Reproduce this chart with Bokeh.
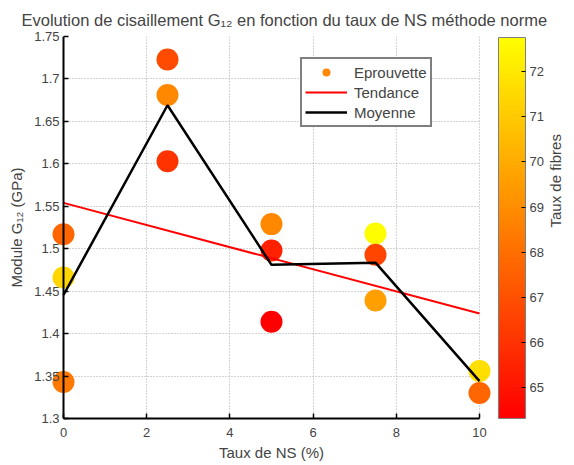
from bokeh.plotting import figure
from bokeh.models import (ColumnDataSource, LinearColorMapper, ColorBar, FixedTicker,
                          Legend, LegendItem, Range1d, Span, BoxAnnotation, LinearAxis)
from bokeh.embed import file_html
from bokeh.resources import INLINE
import math

# ---------------- data ----------------
ns_pct = [0, 0, 0, 2.5, 2.5, 2.5, 5, 5, 5, 7.5, 7.5, 7.5, 10, 10]
g12 = [1.517, 1.466, 1.343, 1.723, 1.681, 1.603, 1.529, 1.498, 1.414,
       1.518, 1.493, 1.439, 1.356, 1.330]
fibre = [67.7, 71.4, 68.3, 66.8, 68.8, 66.0, 68.8, 65.4, 64.3,
         72.7, 66.6, 69.6, 71.7, 67.7]

moy_x = [0, 2.5, 5, 7.5, 10]
moy_y = [1.4455, 1.669, 1.481, 1.4836, 1.344]

trend_x = [0, 10]
trend_y = [1.554, 1.4236]

x_min, x_max = 0, 10
y_min, y_max = 1.3, 1.75
x_ticks = [0, 2, 4, 6, 8, 10]
y_ticks = [1.3, 1.35, 1.4, 1.45, 1.5, 1.55, 1.6, 1.65, 1.7, 1.75]
y_tick_labels = ["1.3", "1.35", "1.4", "1.45", "1.5", "1.55", "1.6", "1.65", "1.7", "1.75"]
cbar_ticks = [65, 66, 67, 68, 69, 70, 71, 72]
cbar_low, cbar_high = 64.31, 72.76

TITLE = "Evolution de cisaillement G\u2081\u2082 en fonction du taux de NS m\u00e9thode norme"
XLABEL = "Taux de NS (%)"
YLABEL = "Module G\u2081\u2082 (GPa)"
CLABEL = "Taux de fibres"

# ---------------- style ----------------
FONT = "Liberation Sans"
autumn = ["#ff%02x00" % i for i in range(256)]
PAD = 0.2885   # extra frame room so edge markers are not cut

p = figure(frame_width=440, frame_height=382, output_backend="svg", toolbar_location=None,
           x_range=Range1d(x_min - PAD, x_max + PAD), y_range=Range1d(y_min, y_max),
           min_border_left=51, min_border_right=72, min_border_top=34,
           min_border_bottom=46, title=TITLE)
p.outline_line_color = None
p.background_fill_color = "white"

p.title.text_font = FONT
p.title.text_font_size = "16.5px"
p.title.text_font_style = "normal"
p.title.align = "left"
p.title.offset = -30
p.title.standoff = 16

for ax in (p.xaxis[0], p.yaxis[0]):
    ax.minor_tick_line_color = None
    ax.major_label_text_font = FONT
    ax.major_label_text_font_size = "13px"
    ax.axis_label_text_font = FONT
    ax.axis_label_text_font_size = "15px"
    ax.axis_label_text_font_style = "normal"
    ax.major_tick_line_width = 1.5

# x axis (bottom)
p.xaxis.ticker = FixedTicker(ticks=x_ticks)
p.xaxis.bounds = (x_min, x_max)
p.xaxis.axis_line_width = 2
p.xaxis.major_tick_in = 5
p.xaxis.major_tick_out = 0
p.xaxis.axis_label = XLABEL
p.xaxis.major_label_standoff = 9
p.xaxis.axis_label_standoff = 4

# y axis (left): labels shifted in to sit next to x = 0
p.yaxis.ticker = FixedTicker(ticks=y_ticks)
p.yaxis.major_label_overrides = {t: l for t, l in zip(y_ticks, y_tick_labels)}
p.yaxis.axis_line_color = None
p.yaxis.major_tick_in = 17
p.yaxis.major_tick_out = -12
p.yaxis.minor_tick_in = 0
p.yaxis.minor_tick_out = 0
p.yaxis.major_label_standoff = -8

# y axis title on its own label-only axis (centred a little above mid-height)
lax = LinearAxis(ticker=FixedTicker(ticks=[]), axis_line_color=None,
                 major_tick_line_color=None, minor_tick_line_color=None,
                 major_tick_in=0, major_tick_out=0, bounds=(1.364, y_max),
                 major_label_text_color=None, axis_label=YLABEL,
                 axis_label_text_font=FONT, axis_label_text_font_size="15px",
                 axis_label_text_font_style="normal", axis_label_standoff=7)
p.add_layout(lax, "left")

# grid
for g in (p.xgrid[0], p.ygrid[0]):
    g.grid_line_color = "#a8a8a8"
    g.grid_line_dash = "1 2"

xg = p.xgrid[0]
p.center = [r for r in p.center if r is not xg]
p.add_layout(BoxAnnotation(right=x_min, fill_color="white", fill_alpha=1.0,
                           line_color=None, level="underlay"))
p.add_layout(BoxAnnotation(left=x_max, fill_color="white", fill_alpha=1.0,
                           line_color=None, level="underlay"))
p.center.append(xg)

mapper = LinearColorMapper(palette=autumn, low=cbar_low, high=cbar_high)
src = ColumnDataSource(dict(x=ns_pct, y=g12, f=fibre))
sc = p.scatter("x", "y", source=src, size=22,
               fill_color={"field": "f", "transform": mapper}, line_color=None)
tr = p.line(trend_x, trend_y, line_color="#ff0000", line_width=2)
mo = p.line(moy_x, moy_y, line_color="black", line_width=2.5)

# y axis line at x = 0
p.add_layout(Span(location=x_min, dimension="height", line_color="black", line_width=2))

legend = Legend(items=[LegendItem(label="Eprouvette", renderers=[sc], index=4),
                       LegendItem(label="Tendance", renderers=[tr]),
                       LegendItem(label="Moyenne", renderers=[mo])],
                location=(249, 291), label_text_font=FONT, label_text_font_size="15px",
                glyph_width=42, glyph_height=20, label_height=20, spacing=0,
                padding=3, margin=0, label_standoff=7,
                border_line_color="black", border_line_width=2,
                background_fill_color="white", background_fill_alpha=1.0)
p.add_layout(legend)

cb = ColorBar(color_mapper=mapper, ticker=FixedTicker(ticks=cbar_ticks),
              location=(447, 0), width=27, height=381, padding=0, margin=0,
              major_label_text_font=FONT, major_label_text_font_size="13px",
              label_standoff=4, major_tick_line_color="black",
              major_tick_in=4, major_tick_out=0, minor_tick_line_color=None,
              bar_line_color="#7f7f7f", background_fill_color=None,
              border_line_color=None)
p.add_layout(cb)

# colour bar title as a label-only right axis
rax = LinearAxis(ticker=FixedTicker(ticks=[]), axis_line_color=None,
                 major_tick_line_color=None, minor_tick_line_color=None,
                 major_tick_in=0, major_tick_out=0, bounds=(1.3, 1.693),
                 major_label_text_color=None, axis_label=CLABEL,
                 axis_label_text_font=FONT, axis_label_text_font_size="15px",
                 axis_label_text_font_style="normal", axis_label_standoff=64)
if "axis_label_orientation" in LinearAxis.properties():
    rax.axis_label_orientation = math.pi / 2
p.add_layout(rax, "right")

open("out.html", "w").write(file_html(p, INLINE))
